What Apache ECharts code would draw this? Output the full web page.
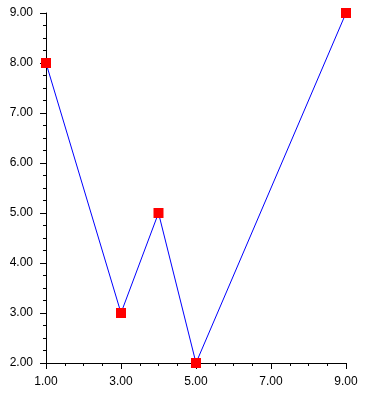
<!DOCTYPE html>
<html><head><meta charset="utf-8">
<script src="https://cdn.jsdelivr.net/npm/echarts@6/dist/echarts.min.js"></script>
<style>html,body{margin:0;padding:0;background:#fff}#c{width:366px;height:402px}</style>
</head><body><div id="c"></div>
<script>
const xValues = [1, 3, 4, 5, 9];
const yValues = [8, 3, 5, 2, 9];
const xTicks = [1, 3, 5, 7, 9];
const yTicks = [2, 3, 4, 5, 6, 7, 8, 9];

const chart = echarts.init(document.getElementById('c'), null, {renderer: 'canvas'});
const font = {fontFamily: 'Liberation Sans, Arial, sans-serif', fontSize: 12, color: '#000'};
chart.setOption({
  animation: false,
  backgroundColor: '#fff',
  grid: {left: 46, right: 20, top: 13, bottom: 39, containLabel: false},
  xAxis: {
    type: 'value', min: xTicks[0], max: xTicks[xTicks.length-1], interval: 2,
    axisLine: {onZero: false, lineStyle: {color: '#000', width: 1}},
    axisTick: {length: 6, lineStyle: {color: '#000'}},
    minorTick: {show: true, splitNumber: 4, length: 3, lineStyle: {color: '#000'}},
    splitLine: {show: false},
    axisLabel: Object.assign({formatter: v => v.toFixed(2), margin: 13}, font)
  },
  yAxis: {
    type: 'value', min: yTicks[0], max: yTicks[yTicks.length-1], interval: 1,
    axisLine: {show: true, onZero: false, lineStyle: {color: '#000', width: 1}},
    axisTick: {show: true, length: 6, lineStyle: {color: '#000'}},
    minorTick: {show: true, splitNumber: 4, length: 3, lineStyle: {color: '#000'}},
    splitLine: {show: false},
    axisLabel: Object.assign({formatter: v => v.toFixed(2), margin: 13}, font)
  },
  series: [{
    type: 'line',
    data: xValues.map((x, i) => [x, yValues[i]]),
    symbol: 'rect', symbolSize: 10,
    lineStyle: {color: '#0000ff', width: 1},
    itemStyle: {color: '#ff0000'},
    clip: false
  }]
});
</script></body></html>
